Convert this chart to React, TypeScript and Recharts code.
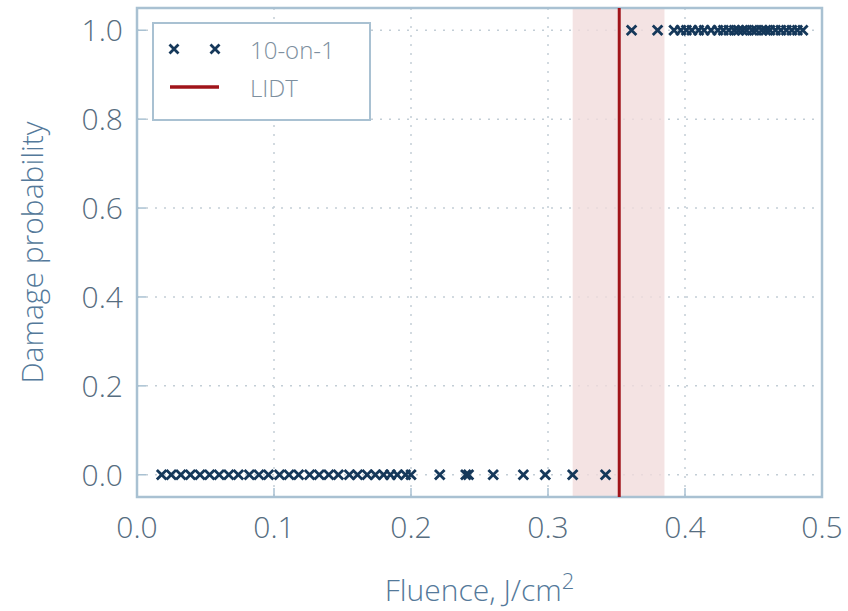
import {
  CartesianGrid,
  ComposedChart,
  Label,
  ReferenceArea,
  ReferenceLine,
  Scatter,
  XAxis,
  YAxis,
} from "recharts";

// fluence (J/cm²) of sites that did not damage
const undamagedFluence = [
  0.018, 0.025, 0.032, 0.039, 0.046, 0.053, 0.06, 0.067, 0.074, 0.082, 0.089,
  0.096, 0.104, 0.111, 0.118, 0.126, 0.133, 0.14, 0.147, 0.155, 0.161, 0.168,
  0.174, 0.18, 0.185, 0.19, 0.196, 0.2, 0.221, 0.24, 0.242, 0.26, 0.282, 0.298,
  0.318, 0.342,
];

// fluence of sites that damaged
const damagedFluence = [
  0.361, 0.38, 0.392, 0.397, 0.401, 0.405, 0.41, 0.414, 0.419, 0.424, 0.428,
  0.432, 0.436, 0.439, 0.442, 0.445, 0.449, 0.452, 0.456, 0.459, 0.462, 0.466,
  0.47, 0.474, 0.478, 0.482, 0.486,
];

const lidt = 0.352;
const lidtLow = 0.318;
const lidtHigh = 0.385;

const xTicks = [0, 0.1, 0.2, 0.3, 0.4, 0.5];
const yTicks = [0, 0.2, 0.4, 0.6, 0.8, 1.0];

const points = [
  ...undamagedFluence.map((f) => ({ fluence: f, prob: 0 })),
  ...damagedFluence.map((f) => ({ fluence: f, prob: 1 })),
];

const FONT = "'Open Sans', 'DejaVu Sans', sans-serif";
const FRAME = "#a9c1d2";
const TICK_TEXT = "#566d80";
const LABEL_TEXT = "#54799a";
const MARKER = "#15385a";
const RED = "#a0141a";

const Cross = (props: any) => {
  const { cx, cy } = props;
  if (cx == null || cy == null) return null;
  const r = 4.8;
  return (
    <path
      d={`M${cx - r},${cy - r}L${cx + r},${cy + r}M${cx - r},${cy + r}L${cx + r},${cy - r}`}
      stroke={MARKER}
      strokeWidth={2.8}
      fill="none"
    />
  );
};

const BottomTick = (props: any) => {
  const { x, y, payload } = props;
  return (
    <g>
      <line x1={x} y1={y} x2={x} y2={y - 9} stroke={FRAME} strokeWidth={1.5} />
      <text x={x} y={y + 41} textAnchor="middle" fill={TICK_TEXT} fontSize={30} fontWeight={300} fontFamily={FONT}>
        {payload.value.toFixed(1)}
      </text>
    </g>
  );
};

const LeftTick = (props: any) => {
  const { x, y, payload } = props;
  return (
    <g>
      <line x1={x} y1={y} x2={x + 9} y2={y} stroke={FRAME} strokeWidth={1.5} />
      <text x={x - 14} y={y + 11} textAnchor="end" fill={TICK_TEXT} fontSize={30} fontWeight={300} fontFamily={FONT}>
        {payload.value.toFixed(1)}
      </text>
    </g>
  );
};

const TopTick = (props: any) => {
  const { x, y } = props;
  return <line x1={x} y1={y} x2={x} y2={y + 9} stroke={FRAME} strokeWidth={1.5} />;
};

const RightTick = (props: any) => {
  const { x, y } = props;
  return <line x1={x} y1={y} x2={x - 9} y2={y} stroke={FRAME} strokeWidth={1.5} />;
};

function LegendBox() {
  const text = { fontFamily: FONT, fontSize: 24, fontWeight: 300, color: "#7d8f9e" };
  const cross = (cx: number) => (
    <path
      d={`M${cx - 4.5},${-4.5}L${cx + 4.5},${4.5}M${cx - 4.5},${4.5}L${cx + 4.5},${-4.5}`}
      stroke={MARKER}
      strokeWidth={2.8}
    />
  );
  return (
    <div
      style={{
        position: "absolute",
        left: 152,
        top: 22,
        width: 215,
        height: 95,
        border: `2px solid ${FRAME}`,
        background: "#fff",
      }}
    >
      <div style={{ position: "absolute", left: 0, top: 8, height: 34, display: "flex", alignItems: "center" }}>
        <svg width={90} height={20} viewBox="0 -10 90 20">
          {cross(20)}
          {cross(61)}
        </svg>
        <span style={{ ...text, marginLeft: 6 }}>10-on-1</span>
      </div>
      <div style={{ position: "absolute", left: 0, top: 46, height: 34, display: "flex", alignItems: "center" }}>
        <svg width={90} height={20}>
          <line x1={16} y1={10} x2={65} y2={10} stroke={RED} strokeWidth={3.5} />
        </svg>
        <span style={{ ...text, marginLeft: 6 }}>LIDT</span>
      </div>
    </div>
  );
}

export default function App() {
  return (
    <div style={{ position: "absolute", left: 0, top: 0, width: 848, height: 611, background: "#fff" }}>
      <ComposedChart
        width={848}
        height={611}
        data={points}
        margin={{ top: 8, right: 26, bottom: 0, left: 0 }}
      >
        <ReferenceArea x1={lidtLow} x2={lidtHigh} y1={-0.05} y2={1.05} fill="#f1dcdc" fillOpacity={0.8} stroke="none" />
        <CartesianGrid stroke="#c3ced6" strokeWidth={1.5} strokeDasharray="2 7" />
        <XAxis
          dataKey="fluence"
          type="number"
          domain={[0, 0.5]}
          ticks={xTicks}
          height={114}
          axisLine={false}
          tickLine={false}
          tickSize={0}
          tickMargin={0}
          tick={<BottomTick />}
          interval={0}
        >
          <Label
            content={(p: any) => {
              const vb = p.viewBox;
              return (
                <text
                  x={vb.x + vb.width / 2}
                  y={vb.y + 104}
                  textAnchor="middle"
                  fill={LABEL_TEXT}
                  fontSize={30}
                  fontWeight={300}
                  fontFamily={FONT}
                >
                  Fluence, J/cm
                  <tspan dy={-12} fontSize={22}>
                    2
                  </tspan>
                </text>
              );
            }}
          />
        </XAxis>
        <XAxis
          xAxisId="top"
          orientation="top"
          dataKey="fluence"
          type="number"
          domain={[0, 0.5]}
          ticks={xTicks}
          height={0}
          axisLine={false}
          tickLine={false}
          tickSize={0}
          tickMargin={0}
          tick={<TopTick />}
          interval={0}
        />
        <YAxis
          dataKey="prob"
          type="number"
          domain={[-0.05, 1.05]}
          ticks={yTicks}
          width={137}
          axisLine={false}
          tickLine={false}
          tickSize={0}
          tickMargin={0}
          tick={<LeftTick />}
          interval={0}
        >
          <Label
            content={(p: any) => {
              const vb = p.viewBox;
              const cy = vb.y + vb.height / 2;
              return (
                <text
                  x={31}
                  y={cy}
                  transform={`rotate(-90, 31, ${cy})`}
                  textAnchor="middle"
                  dominantBaseline="central"
                  fill={LABEL_TEXT}
                  fontSize={30}
                  fontWeight={300}
                  fontFamily={FONT}
                >
                  Damage probability
                </text>
              );
            }}
          />
        </YAxis>
        <YAxis
          yAxisId="right"
          orientation="right"
          dataKey="prob"
          type="number"
          domain={[-0.05, 1.05]}
          ticks={yTicks}
          width={0}
          axisLine={false}
          tickLine={false}
          tickSize={0}
          tickMargin={0}
          tick={<RightTick />}
          interval={0}
        />
        <ReferenceLine x={lidt} stroke={RED} strokeWidth={3} />
        <ReferenceArea x1={0} x2={0.5} y1={-0.05} y2={1.05} fill="none" stroke={FRAME} strokeWidth={2.5} />
        <Scatter dataKey="prob" shape={<Cross />} isAnimationActive={false} />
      </ComposedChart>
      <LegendBox />
    </div>
  );
}
